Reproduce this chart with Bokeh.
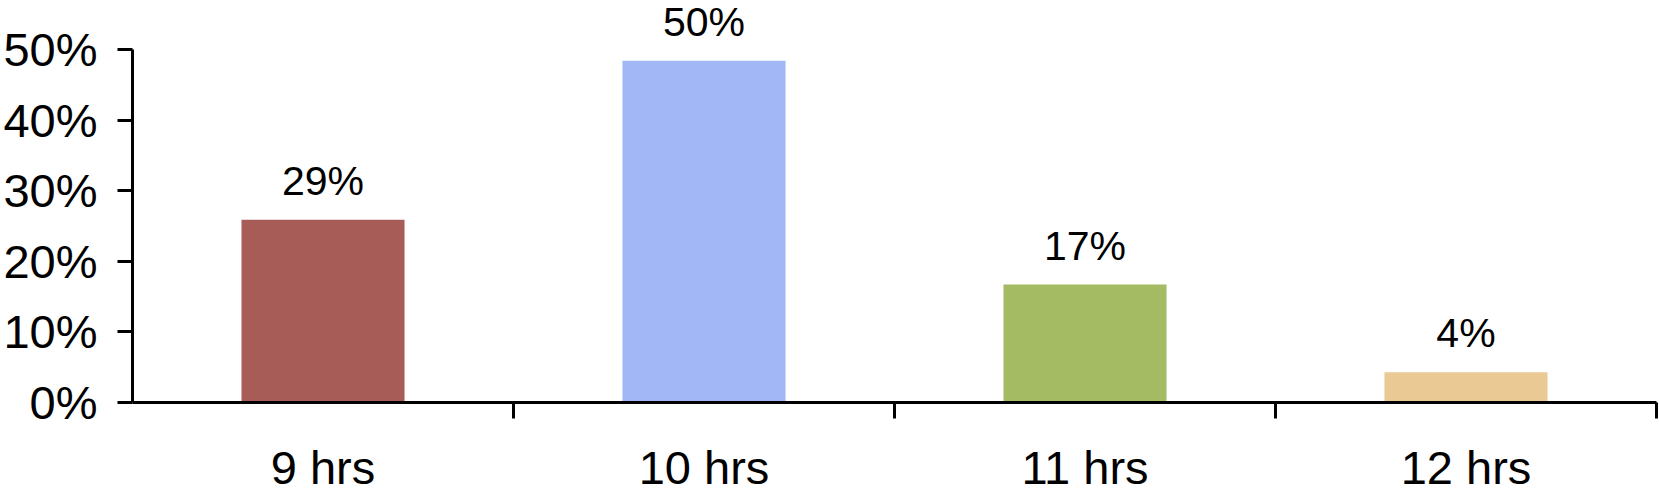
from bokeh.plotting import figure
from bokeh.models import ColumnDataSource, FixedTicker, NumeralTickFormatter, Range1d, LinearAxis
from bokeh.embed import file_html
from bokeh.resources import INLINE
from bokeh.core.properties import value

categories = ["9 hrs", "10 hrs", "11 hrs", "12 hrs"]
shares = [0.259, 0.484, 0.167, 0.043]
bar_labels = ["29%", "50%", "17%", "4%"]
bar_colors = ["#A85C58", "#A2B8F6", "#A4BB63", "#EAC994"]
y_ticks = [0.0, 0.1, 0.2, 0.3, 0.4, 0.5]

FONT = "Liberation Sans"

n = len(categories)
xpos = [i + 0.5 for i in range(n)]
boundaries = [i + 1 for i in range(n)]

src = ColumnDataSource(dict(x=xpos, top=shares, label=bar_labels, color=bar_colors, cat=categories))

p = figure(frame_width=1524, frame_height=402, output_backend="svg", toolbar_location=None,
           x_range=Range1d(0, n), y_range=Range1d(0, 0.5694),
           x_axis_location=None, y_axis_location=None,
           min_border_left=132, min_border_right=2, min_border_top=0, min_border_bottom=91)
p.xgrid.grid_line_color = None
p.ygrid.grid_line_color = None
p.outline_line_color = None
p.background_fill_color = "white"
p.border_fill_color = "white"

p.vbar(x="x", top="top", bottom=0, width=0.428, color="color", line_color=None, source=src)
p.text(x="x", y="top", text="label", source=src, text_font=value(FONT), text_font_size="41px",
       text_align="center", text_baseline="alphabetic", y_offset=-39, text_color="black")

yaxis = LinearAxis(ticker=FixedTicker(ticks=y_ticks, minor_ticks=[]),
                   formatter=NumeralTickFormatter(format="0%"), bounds=(0, 0.5))
yaxis.axis_line_width = 3
yaxis.axis_line_color = "black"
yaxis.major_tick_line_width = 3
yaxis.major_tick_line_color = "black"
yaxis.major_tick_out = 15
yaxis.major_tick_in = 0
yaxis.major_label_standoff = 20
yaxis.major_label_text_font = FONT
yaxis.major_label_text_font_size = "47px"
yaxis.major_label_text_color = "black"
p.add_layout(yaxis, "left")

xaxis = LinearAxis(ticker=FixedTicker(ticks=xpos, minor_ticks=boundaries),
                   major_label_overrides={x: c for x, c in zip(xpos, categories)})
xaxis.axis_line_width = 3
xaxis.axis_line_color = "black"
xaxis.major_tick_line_color = None
xaxis.major_tick_out = 0
xaxis.major_tick_in = 0
xaxis.minor_tick_line_color = "black"
xaxis.minor_tick_line_width = 3
xaxis.minor_tick_out = 16
xaxis.minor_tick_in = 0
xaxis.major_label_standoff = 22
xaxis.major_label_text_font = FONT
xaxis.major_label_text_font_size = "47px"
xaxis.major_label_text_color = "black"
p.add_layout(xaxis, "below")

open("out.html", "w").write(file_html(p, INLINE))
